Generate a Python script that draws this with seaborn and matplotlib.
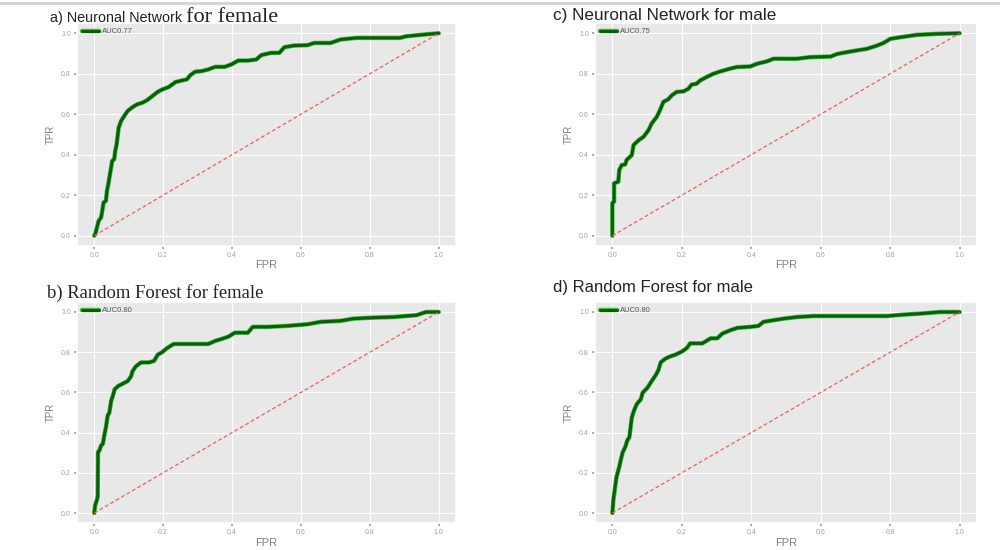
import numpy as np
import pandas as pd
import matplotlib
matplotlib.use('Agg')
import matplotlib.pyplot as plt
import matplotlib.patheffects as pe
from matplotlib.lines import Line2D
import seaborn as sns

# ROC curves (FPR, TPR)
fpr_nn_female = [0, .003, .009, .013, .020, .025, .027, .034, .037, .041, .044, .049, .052, .058, .061,
                 .065, .068, .071, .078, .087, .097, .111, .125, .140, .154, .169, .183, .197, .216,
                 .236, .255, .269, .279, .293, .312, .331, .351, .379, .398, .418, .446, .470, .485,
                 .513, .537, .552, .580, .619, .638, .686, .715, .762, .887, .906, .954, 1]
tpr_nn_female = [0, .008, .049, .074, .090, .140, .164, .172, .222, .255, .287, .337, .369, .378, .419,
                 .452, .493, .534, .567, .591, .616, .635, .649, .657, .670, .690, .709, .722, .734,
                 .759, .767, .772, .793, .810, .813, .821, .834, .834, .846, .865, .865, .870, .892,
                 .903, .903, .931, .939, .941, .952, .952, .969, .977, .977, .985, .993, 1]

fpr_rf_female = [0, .003, .008, .010, .011, .015, .020, .025, .030, .034, .039, .044, .049, .054, .059,
                 .069, .082, .097, .107, .111, .121, .136, .159, .174, .184, .197, .211, .231, .255,
                 .331, .351, .370, .389, .408, .446, .460, .504, .561, .619, .657, .715, .753, .810,
                 .868, .935, .963, 1]
tpr_rf_female = [0, .041, .066, .082, .303, .311, .336, .344, .393, .426, .484, .500, .557, .582, .615,
                 .631, .643, .656, .680, .705, .730, .749, .749, .757, .787, .800, .820, .841, .841,
                 .841, .856, .866, .877, .897, .897, .926, .926, .931, .939, .951, .956, .967, .972,
                 .975, .984, 1.0, 1]

fpr_nn_male = [0, 0, .005, .005, .017, .020, .027, .037, .041, .056, .061, .076, .090, .104, .113,
               .128, .137, .147, .161, .171, .185, .205, .219, .228, .243, .253, .272, .291, .310,
               .339, .358, .397, .416, .445, .464, .531, .570, .629, .648, .677, .704, .733, .762,
               .781, .800, .829, .877, .935, 1]
tpr_nn_male = [0, .161, .169, .259, .267, .325, .349, .352, .374, .398, .448, .472, .489, .521, .554,
               .587, .620, .661, .674, .693, .710, .713, .726, .746, .751, .767, .784, .800, .811,
               .825, .833, .836, .849, .861, .874, .874, .882, .885, .898, .907, .915, .923, .939,
               .952, .972, .980, .992, .997, 1]

fpr_rf_male = [0, .003, .008, .012, .020, .024, .030, .037, .043, .049, .053, .056, .062, .070, .082,
               .087, .101, .113, .126, .133, .139, .152, .166, .181, .200, .214, .224, .259, .283,
               .302, .317, .341, .360, .397, .421, .435, .464, .493, .531, .579, .791, .839, .887,
               .944, 1]
tpr_rf_male = [0, .066, .131, .180, .230, .262, .303, .328, .361, .377, .434, .475, .508, .541, .566,
               .598, .623, .656, .689, .713, .749, .767, .779, .787, .803, .820, .844, .844, .869,
               .869, .893, .910, .921, .926, .931, .951, .959, .967, .975, .980, .980, .987, .992,
               1.0, 1]

diag = [0, 1]

panels = [
    ('a', fpr_nn_female, tpr_nn_female, 'AUC0.77'),
    ('b', fpr_rf_female, tpr_rf_female, 'AUC0.80'),
    ('c', fpr_nn_male, tpr_nn_male, 'AUC0.75'),
    ('d', fpr_rf_male, tpr_rf_male, 'AUC0.80'),
]

sns.set_theme(style='darkgrid', rc={
    'axes.facecolor': '#e8e8e8',
    'grid.color': 'white',
    'grid.linewidth': 0.8,
    'xtick.bottom': True,
    'ytick.left': True,
    'xtick.major.size': 2.5,
    'ytick.major.size': 2.5,
    'xtick.color': '#a0a0a0',
    'ytick.color': '#a0a0a0',
    'xtick.labelsize': 5,
    'ytick.labelsize': 5,
})
plt.rcParams['font.family'] = ['Liberation Sans', 'DejaVu Sans']

fig = plt.figure(figsize=(10, 5.5), dpi=100)

# axes rectangles in figure fraction
rects = {
    'a': [0.077, 0.553, 0.379, 0.405],
    'b': [0.077, 0.049, 0.379, 0.402],
    'c': [0.595, 0.553, 0.382, 0.405],
    'd': [0.595, 0.049, 0.382, 0.402],
}

for key, fpr, tpr, auc in panels:
    ax = fig.add_axes(rects[key])
    df = pd.DataFrame({'FPR': fpr, 'TPR': tpr})
    sns.lineplot(data=df, x='FPR', y='TPR', sort=False, estimator=None, ax=ax,
                 color='#0b5d0b', lw=2.2, label=auc,
                 path_effects=[pe.Stroke(linewidth=3.2, foreground='#3fbf3f'), pe.Normal()])
    ax.plot(diag, diag, color='#e8605a', ls='--', lw=0.9, dashes=(3, 2))
    ax.set_xticks(np.arange(0, 1.01, 0.2))
    ax.set_yticks(np.arange(0, 1.01, 0.2))
    ax.set_xlabel('FPR', fontsize=8, color='#808080', labelpad=1)
    ax.set_ylabel('TPR', fontsize=7, color='#808080', labelpad=4)
    ax.tick_params(pad=2)
    leg = ax.legend(loc='upper left', fontsize=5.5, frameon=False, handlelength=2.2,
                    borderaxespad=0.45, borderpad=0.2, handletextpad=0.4)
    for t in leg.get_texts():
        t.set_color('#555555')

# panel titles (the source mixes a sans and a serif face)
fig.text(0.050, 0.960, 'a) Neuronal Network', fontsize=10.4, va='baseline', ha='left', color='#222222')
fig.text(0.186, 0.960, 'for female', fontsize=16, va='baseline', ha='left', color='#222222',
         family='Liberation Serif')
fig.text(0.047, 0.458, 'b) Random Forest for female', fontsize=13.4, va='baseline', ha='left',
         color='#222222', family='Liberation Serif')
fig.text(0.553, 0.9636, 'c) Neuronal Network for male', fontsize=12.3, va='baseline', ha='left',
         color='#222222')
fig.text(0.553, 0.469, 'd) Random Forest for male', fontsize=12.0, va='baseline', ha='left',
         color='#222222')

# faint screenshot edge at the top
fig.add_artist(Line2D([0, 1], [0.995, 0.995], transform=fig.transFigure, color='#d4d4d4', lw=2))

fig.savefig('out.png', dpi=100)
